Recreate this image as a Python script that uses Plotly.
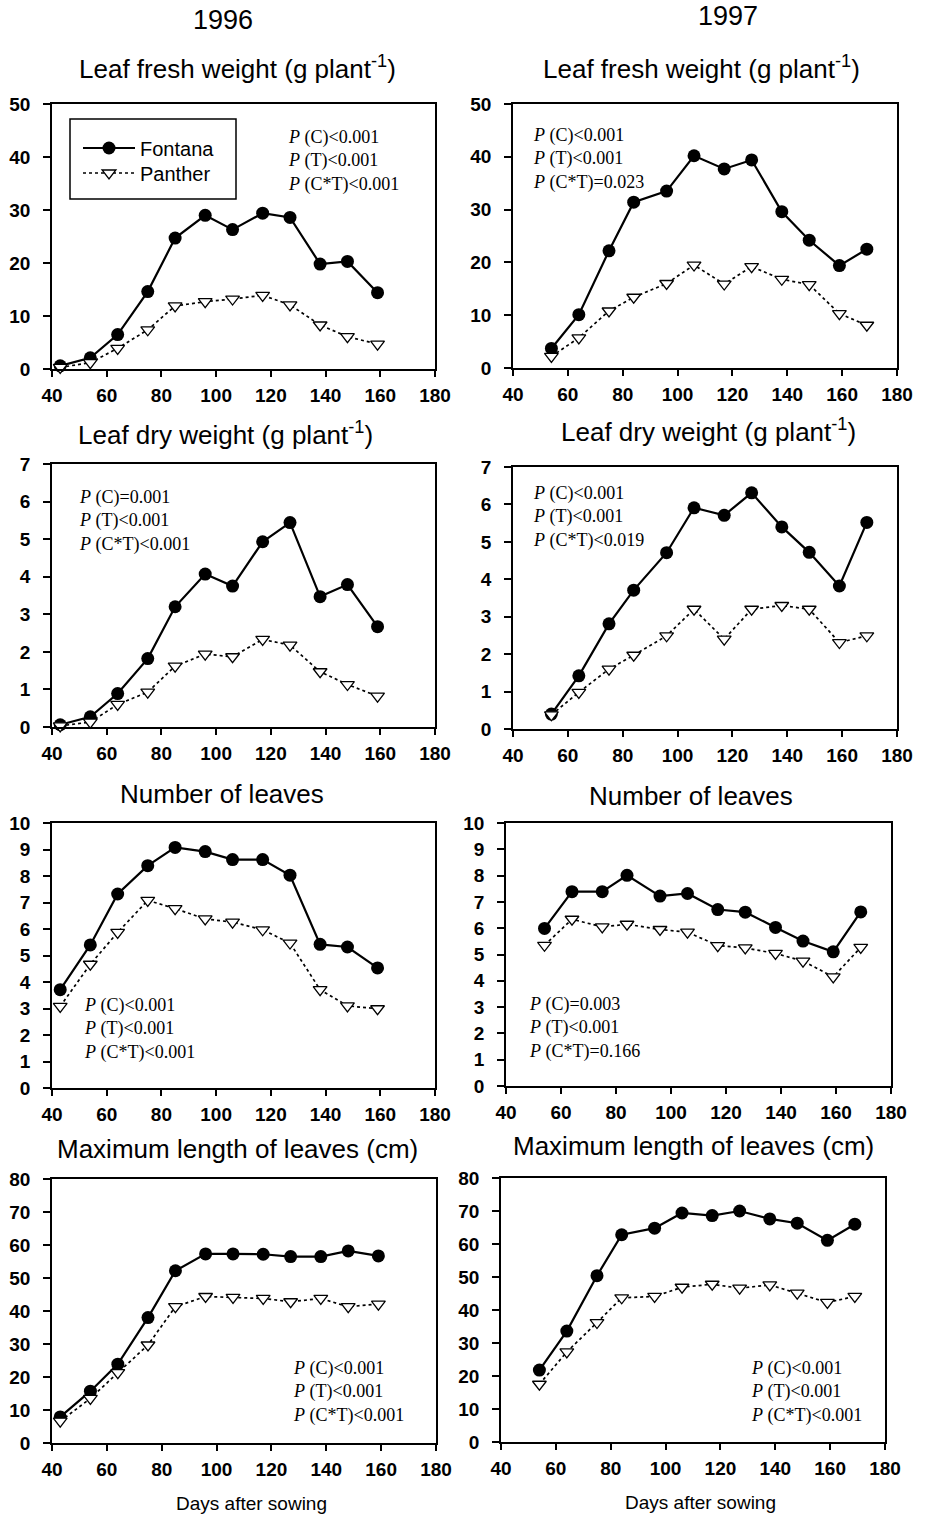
import plotly.graph_objects as go

W, H = 926, 1515

# Sampling days (days after sowing)
days_1996 = [43, 54, 64, 75, 85, 96, 106, 117, 127, 138, 148, 159]
days_1997 = [54, 64, 75, 84, 96, 106, 117, 127, 138, 148, 159, 169]

# Leaf fresh weight (g plant-1)
fresh_fontana_1996 = [0.6, 2.1, 6.5, 14.6, 24.7, 29.0, 26.3, 29.4, 28.6, 19.8, 20.3, 14.4]
fresh_panther_1996 = [0.3, 1.2, 3.9, 7.4, 11.9, 12.7, 13.2, 13.9, 12.1, 8.3, 6.1, 4.7]
fresh_fontana_1997 = [3.7, 10.1, 22.2, 31.4, 33.5, 40.2, 37.7, 39.4, 29.6, 24.2, 19.4, 22.5]
fresh_panther_1997 = [2.2, 5.7, 10.8, 13.4, 16.0, 19.5, 15.9, 19.2, 16.8, 15.8, 10.3, 8.1]

# Leaf dry weight (g plant-1)
dry_fontana_1996 = [0.06, 0.27, 0.89, 1.82, 3.20, 4.07, 3.75, 4.93, 5.44, 3.47, 3.79, 2.67]
dry_panther_1996 = [0.03, 0.13, 0.60, 0.93, 1.62, 1.94, 1.87, 2.33, 2.18, 1.47, 1.13, 0.82]
dry_fontana_1997 = [0.40, 1.42, 2.81, 3.71, 4.71, 5.91, 5.71, 6.31, 5.40, 4.72, 3.82, 5.52]
dry_panther_1997 = [0.38, 0.98, 1.60, 1.97, 2.49, 3.20, 2.40, 3.20, 3.30, 3.20, 2.31, 2.49]

# Number of leaves
leaves_fontana_1996 = [3.71, 5.40, 7.32, 8.39, 9.08, 8.92, 8.62, 8.62, 8.03, 5.42, 5.32, 4.53]
leaves_panther_1996 = [3.08, 4.67, 5.87, 7.08, 6.77, 6.38, 6.26, 5.97, 5.47, 3.71, 3.10, 2.99]
leaves_fontana_1997 = [5.99, 7.39, 7.39, 8.01, 7.22, 7.32, 6.71, 6.61, 6.03, 5.51, 5.10, 6.62]
leaves_panther_1997 = [5.35, 6.34, 6.05, 6.15, 5.95, 5.85, 5.34, 5.25, 5.04, 4.75, 4.15, 5.27]

# Maximum length of leaves (cm)
length_fontana_1996 = [7.9, 15.7, 23.9, 38.0, 52.2, 57.3, 57.3, 57.2, 56.5, 56.5, 58.2, 56.7]
length_panther_1996 = [6.6, 13.5, 21.3, 29.7, 41.3, 44.4, 44.1, 43.8, 42.8, 43.8, 41.3, 42.1]
length_fontana_1997 = [21.8, 33.6, 50.4, 62.8, 64.8, 69.4, 68.6, 70.0, 67.6, 66.3, 61.1, 66.0]
length_panther_1997 = [17.5, 27.3, 36.2, 43.7, 44.1, 46.9, 47.8, 46.6, 47.6, 45.1, 42.3, 44.1]

# Significance statements
stats_fresh_1996 = ["(C)<0.001", "(T)<0.001", "(C*T)<0.001"]
stats_fresh_1997 = ["(C)<0.001", "(T)<0.001", "(C*T)=0.023"]
stats_dry_1996 = ["(C)=0.001", "(T)<0.001", "(C*T)<0.001"]
stats_dry_1997 = ["(C)<0.001", "(T)<0.001", "(C*T)<0.019"]
stats_leaves_1996 = ["(C)<0.001", "(T)<0.001", "(C*T)<0.001"]
stats_leaves_1997 = ["(C)=0.003", "(T)<0.001", "(C*T)=0.166"]
stats_length_1996 = ["(C)<0.001", "(T)<0.001", "(C*T)<0.001"]
stats_length_1997 = ["(C)<0.001", "(T)<0.001", "(C*T)<0.001"]

x_ticks = [40, 60, 80, 100, 120, 140, 160, 180]

SANS = "Liberation Sans, Arial, sans-serif"
SERIF = "Liberation Serif, Times New Roman, serif"

# panel layout: plot rectangle (px), title, title centre (px), stats, stats anchor (px)
panels = [
    dict(rect=(52, 104, 435, 369), days=days_1996, f=fresh_fontana_1996, p=fresh_panther_1996,
         ymax=50, dy=10, title="Leaf fresh weight (g plant<sup>-1</sup>)", tpos=(237, 68),
         stats=stats_fresh_1996, spos=(286, 161)),
    dict(rect=(513, 104, 897, 368), days=days_1997, f=fresh_fontana_1997, p=fresh_panther_1997,
         ymax=50, dy=10, title="Leaf fresh weight (g plant<sup>-1</sup>)", tpos=(701, 68),
         stats=stats_fresh_1997, spos=(531, 159)),
    dict(rect=(52, 464, 435, 727), days=days_1996, f=dry_fontana_1996, p=dry_panther_1996,
         ymax=7, dy=1, title="Leaf dry weight (g plant<sup>-1</sup>)", tpos=(225, 433),
         stats=stats_dry_1996, spos=(77, 521)),
    dict(rect=(513, 467, 897, 729), days=days_1997, f=dry_fontana_1997, p=dry_panther_1997,
         ymax=7, dy=1, title="Leaf dry weight (g plant<sup>-1</sup>)", tpos=(708, 430),
         stats=stats_dry_1997, spos=(531, 517)),
    dict(rect=(52, 823, 435, 1088), days=days_1996, f=leaves_fontana_1996, p=leaves_panther_1996,
         ymax=10, dy=1, title="Number of leaves", tpos=(222, 794),
         stats=stats_leaves_1996, spos=(82, 1029)),
    dict(rect=(506, 823, 891, 1086), days=days_1997, f=leaves_fontana_1997, p=leaves_panther_1997,
         ymax=10, dy=1, title="Number of leaves", tpos=(691, 796),
         stats=stats_leaves_1997, spos=(527, 1028)),
    dict(rect=(52, 1179, 436, 1443), days=days_1996, f=length_fontana_1996, p=length_panther_1996,
         ymax=80, dy=10, title="Maximum length of leaves (cm)", tpos=(237, 1149),
         stats=stats_length_1996, spos=(291, 1392)),
    dict(rect=(501, 1178, 885, 1442), days=days_1997, f=length_fontana_1997, p=length_panther_1997,
         ymax=80, dy=10, title="Maximum length of leaves (cm)", tpos=(693, 1146),
         stats=stats_length_1997, spos=(749, 1392)),
]


def px(x):
    return x / W


def py(y):
    return 1 - y / H


tick_font = dict(family=SANS, size=19, color="black", weight="bold")

fig = go.Figure()
layout = dict(
    width=W, height=H, autosize=False,
    margin=dict(l=0, r=0, t=0, b=0, pad=0),
    paper_bgcolor="white", plot_bgcolor="white",
    font=dict(family=SANS, color="black"),
    showlegend=True,
    annotations=[], shapes=[],
)

for i, pn in enumerate(panels, start=1):
    x0, y0, x1, y1 = pn["rect"]
    xa, ya = f"x{i}", f"y{i}"
    fig.add_trace(go.Scatter(
        x=pn["days"], y=pn["f"], xaxis=xa, yaxis=ya, name="Fontana",
        mode="lines+markers", showlegend=(i == 1), legend="legend", cliponaxis=False,
        line=dict(color="black", width=2.2),
        marker=dict(symbol="circle", size=13, color="black"),
    ))
    fig.add_trace(go.Scatter(
        x=pn["days"], y=pn["p"], xaxis=xa, yaxis=ya, name="Panther",
        mode="lines+markers", showlegend=(i == 1), legend="legend2", cliponaxis=False,
        line=dict(color="black", width=1.7, dash="dot"),
        marker=dict(symbol="triangle-down", size=12, color="white",
                    line=dict(color="black", width=1.3)),
    ))
    layout[f"xaxis{i}"] = dict(
        domain=[px(x0), px(x1)], anchor=ya, range=[40, 180], automargin=False,
        tickvals=x_ticks, ticks="outside", ticklen=6, tickwidth=1.5, tickcolor="black",
        showline=True, linecolor="black", linewidth=1.5, mirror=True,
        showgrid=False, zeroline=False, ticklabelstandoff=2,
        tickfont=tick_font,
    )
    layout[f"yaxis{i}"] = dict(
        domain=[py(y1), py(y0)], anchor=xa, range=[0, pn["ymax"]], automargin=False,
        tickvals=list(range(0, pn["ymax"] + 1, pn["dy"])),
        ticks="outside", ticklen=7, tickwidth=1.5, tickcolor="black",
        showline=True, linecolor="black", linewidth=1.5, mirror=True,
        showgrid=False, zeroline=False, ticklabelstandoff=9,
        tickfont=tick_font,
    )
    layout["annotations"].append(dict(
        text=pn["title"], x=px(pn["tpos"][0]), y=py(pn["tpos"][1]),
        xref="paper", yref="paper", xanchor="center", yanchor="middle",
        showarrow=False, font=dict(family=SANS, size=26, color="black"),
    ))
    stat_lines = ["<i>P</i> " + s.replace("<", "&lt;") for s in pn["stats"]]
    layout["annotations"].append(dict(
        text="<br>".join(stat_lines), x=px(pn["spos"][0]), y=py(pn["spos"][1]),
        xref="paper", yref="paper", xanchor="left", yanchor="middle", align="left",
        showarrow=False, font=dict(family=SERIF, size=18, color="black"),
    ))

# year headings
for year, (cx, cy) in [("1996", (223, 20)), ("1997", (728, 16))]:
    layout["annotations"].append(dict(
        text=year, x=px(cx), y=py(cy), xref="paper", yref="paper",
        xanchor="center", yanchor="middle", showarrow=False,
        font=dict(family=SANS, size=27, color="black"),
    ))

# x-axis titles under the bottom row
for cx, cy in [(251, 1503), (700, 1502)]:
    layout["annotations"].append(dict(
        text="Days after sowing", x=px(cx), y=py(cy), xref="paper", yref="paper",
        xanchor="center", yanchor="middle", showarrow=False,
        font=dict(family=SANS, size=19, color="black"),
    ))

# legend frame with one entry per cultivar
layout["shapes"].append(dict(
    type="rect", xref="paper", yref="paper",
    x0=px(70), x1=px(236), y0=py(199), y1=py(119),
    line=dict(color="black", width=1.5), fillcolor="rgba(0,0,0,0)",
))
legend_common = dict(
    xanchor="left", yanchor="middle", bgcolor="rgba(0,0,0,0)", borderwidth=0,
    itemwidth=52, tracegroupgap=0, font=dict(family=SANS, size=20, color="black"),
)
layout["legend"] = dict(x=px(78), y=py(148), **legend_common)
layout["legend2"] = dict(x=px(78), y=py(173), **legend_common)

fig.update_layout(**layout)
fig.write_html(
    "out.html",
    post_script="document.body.style.margin='0';document.body.style.overflow='hidden';",
)
